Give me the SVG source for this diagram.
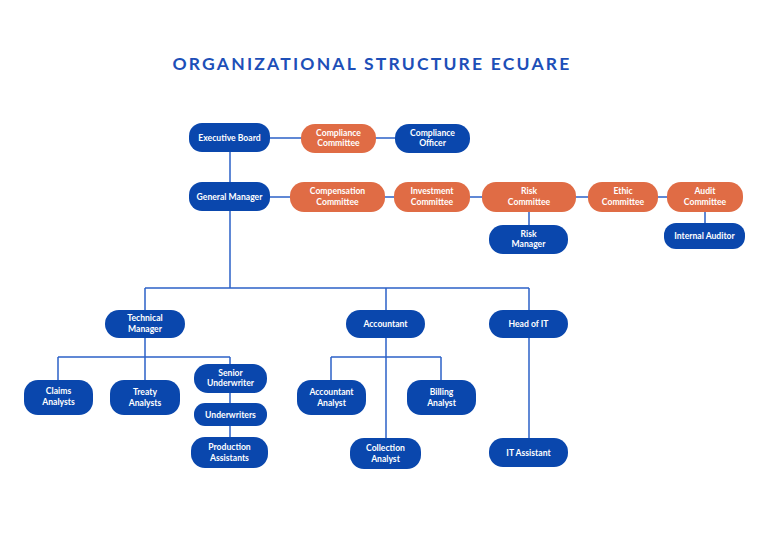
<svg xmlns="http://www.w3.org/2000/svg" width="768" height="542" viewBox="0 0 768 542">
<style>
.b{fill:#0a47ad}.o{fill:#e06c45}
text{font-family:Lato,"Liberation Sans",sans-serif;font-weight:bold;fill:#fff;font-size:8.6px;text-anchor:middle}
.c{fill:none;stroke:#2d62c8;stroke-width:1.5}
.t{fill:#1d4fb8;font-size:17.5px;letter-spacing:2.2px;font-weight:bold}
</style>
<rect width="768" height="542" fill="#fff"/>
<text class="t" x="372" y="70">ORGANIZATIONAL STRUCTURE ECUARE</text>
<g id="connectors" class="c">
<path d="M270 138H395M230 152V182M270 197H667M529 212V225M705 212V223M230 211V288M145 288H529M145 288V310M386 288V310M529 288V310M145 338V357M58 357H230M58 357V380M145 357V380M230 357V364M230 393V403M230 426V437M386 338V438M331 357H441M331 357V380M441 357V380M529 338V438"/>
</g>
<g id="executive-board"><rect class="b" x="189" y="123" width="81" height="29" rx="13"/><text x="229.5" y="141">Executive Board</text></g>
<g id="compliance-committee"><rect class="o" x="301" y="124" width="75" height="29" rx="14"/><text x="338.5" y="135.5">Compliance</text><text x="338.5" y="145.5">Committee</text></g>
<g id="compliance-officer"><rect class="b" x="395" y="124" width="75" height="29" rx="14"/><text x="432.5" y="135.5">Compliance</text><text x="432.5" y="145.5">Officer</text></g>
<g id="general-manager"><rect class="b" x="189" y="182" width="81" height="29" rx="13"/><text x="229.5" y="200">General Manager</text></g>
<g id="compensation-committee"><rect class="o" x="290" y="182" width="95" height="30" rx="14"/><text x="337.5" y="194">Compensation</text><text x="337.5" y="204.5">Committee</text></g>
<g id="investment-committee"><rect class="o" x="394" y="182" width="76" height="30" rx="14"/><text x="432" y="194">Investment</text><text x="432" y="204.5">Committee</text></g>
<g id="risk-committee"><rect class="o" x="482" y="182" width="94" height="30" rx="14"/><text x="529" y="194">Risk</text><text x="529" y="204.5">Committee</text></g>
<g id="ethic-committee"><rect class="o" x="588" y="182" width="70" height="30" rx="14"/><text x="623" y="194">Ethic</text><text x="623" y="204.5">Committee</text></g>
<g id="audit-committee"><rect class="o" x="667" y="182" width="76" height="30" rx="14"/><text x="705" y="194">Audit</text><text x="705" y="204.5">Committee</text></g>
<g id="risk-manager"><rect class="b" x="489" y="225" width="79" height="29" rx="14"/><text x="528.5" y="236.5">Risk</text><text x="528.5" y="247">Manager</text></g>
<g id="internal-auditor"><rect class="b" x="664" y="223" width="81" height="26" rx="12"/><text x="704.5" y="239">Internal Auditor</text></g>
<g id="technical-manager"><rect class="b" x="105" y="310" width="80" height="28" rx="14"/><text x="145" y="321">Technical</text><text x="145" y="331.5">Manager</text></g>
<g id="accountant"><rect class="b" x="346" y="310" width="79" height="28" rx="14"/><text x="385.5" y="327">Accountant</text></g>
<g id="head-of-it"><rect class="b" x="489" y="310" width="79" height="28" rx="14"/><text x="528.5" y="327">Head of IT</text></g>
<g id="claims-analysts"><rect class="b" x="24" y="380" width="69" height="35" rx="14"/><text x="58.5" y="394">Claims</text><text x="58.5" y="404.5">Analysts</text></g>
<g id="treaty-analysts"><rect class="b" x="110" y="380" width="70" height="35" rx="14"/><text x="145" y="395">Treaty</text><text x="145" y="405.5">Analysts</text></g>
<g id="senior-underwriter"><rect class="b" x="194" y="364" width="73" height="29" rx="14"/><text x="230.5" y="375.5">Senior</text><text x="230.5" y="386">Underwriter</text></g>
<g id="underwriters"><rect class="b" x="194" y="403" width="73" height="23" rx="11"/><text x="230.5" y="417.5">Underwriters</text></g>
<g id="production-assistants"><rect class="b" x="191" y="437" width="77" height="31" rx="14"/><text x="229.5" y="450">Production</text><text x="229.5" y="460.5">Assistants</text></g>
<g id="accountant-analyst"><rect class="b" x="297" y="380" width="69" height="35" rx="14"/><text x="331.5" y="395">Accountant</text><text x="331.5" y="405.5">Analyst</text></g>
<g id="billing-analyst"><rect class="b" x="407" y="380" width="69" height="35" rx="14"/><text x="441.5" y="395">Billing</text><text x="441.5" y="405.5">Analyst</text></g>
<g id="collection-analyst"><rect class="b" x="350" y="438" width="71" height="31" rx="14"/><text x="385.5" y="451">Collection</text><text x="385.5" y="461.5">Analyst</text></g>
<g id="it-assistant"><rect class="b" x="489" y="438" width="79" height="29" rx="14"/><text x="528.5" y="455.5">IT Assistant</text></g>
</svg>
